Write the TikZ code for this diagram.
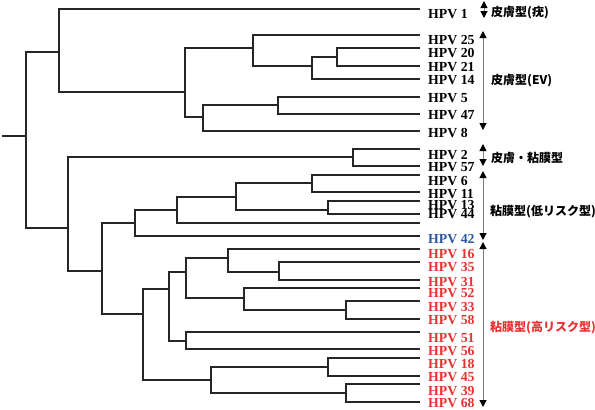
\documentclass[tikz,border=0pt]{standalone}
\usepackage{fontspec}
\setmainfont{Liberation Serif}
\newfontfamily\jpfont{Noto Sans CJK JP}
\usetikzlibrary{arrows.meta}
\definecolor{hpvred}{RGB}{232,50,50}
\definecolor{hpvblue}{RGB}{45,85,165}
\tikzset{
  branch/.style={line width=1.6pt, color=black!85},
  hpv/.style={anchor=west, inner sep=0pt, font=\fontsize{13.8}{14}\selectfont\bfseries},
  group/.style={anchor=west, inner sep=0pt, font=\jpfont\fontsize{12}{12}\selectfont\bfseries},
  grouparrow/.style={{Triangle[black,length=7pt,width=7pt]}-{Triangle[black,length=7pt,width=7pt]}, line width=1pt, color=gray},
}
\begin{document}
\begin{tikzpicture}[x=1pt, y=-1pt]
    \useasboundingbox (0,0) rectangle (595,410);

    % leaves
    \coordinate (v1) at (420,9);
    \coordinate (v25) at (420,35);
    \coordinate (v20) at (420,48);
    \coordinate (v21) at (420,66);
    \coordinate (v14) at (420,79);
    \coordinate (v5) at (420,97);
    \coordinate (v47) at (420,114);
    \coordinate (v8) at (420,131);
    \coordinate (v2) at (420,149);
    \coordinate (v57) at (420,166);
    \coordinate (v6) at (420,175);
    \coordinate (v11) at (420,192);
    \coordinate (v13) at (420,201);
    \coordinate (v44) at (420,214);
    \coordinate (vx) at (420,223);
    \coordinate (v42) at (420,236);
    \coordinate (v16) at (420,249);
    \coordinate (v35) at (420,262);
    \coordinate (v31) at (420,280);
    \coordinate (v52) at (420,288);
    \coordinate (v33) at (420,301);
    \coordinate (v58) at (420,319);
    \coordinate (v51) at (420,332);
    \coordinate (v56) at (420,349);
    \coordinate (v18) at (420,358);
    \coordinate (v45) at (420,376);
    \coordinate (v39) at (420,384);
    \coordinate (v68) at (420,402);

    % inner branch points
    \coordinate (stem) at (2,136);
    \coordinate (r) at (26,136);
    \coordinate (n1) at (59,52);
    \coordinate (n2) at (68,228);
    \coordinate (n3) at (185,92);
    \coordinate (n4) at (253,48);
    \coordinate (n5) at (203,117);
    \coordinate (n6) at (312,66);
    \coordinate (n7) at (337,57);
    \coordinate (n8) at (278,105);
    \coordinate (n9) at (353,157);
    \coordinate (n10) at (102,271);
    \coordinate (n11) at (135,223);
    \coordinate (n12) at (143,314);
    \coordinate (n13) at (177,210);
    \coordinate (n14) at (236,197);
    \coordinate (n15) at (312,183);
    \coordinate (n16) at (328,210);
    \coordinate (n17) at (169,289);
    \coordinate (n18) at (211,380);
    \coordinate (n19) at (186,272);
    \coordinate (n20) at (186,341);
    \coordinate (n21) at (228,258);
    \coordinate (n22) at (244,298);
    \coordinate (n23) at (279,272);
    \coordinate (n24) at (346,310);
    \coordinate (n25) at (328,367);
    \coordinate (n26) at (346,393);

    \draw[branch] (stem) -- (r);
    \draw[branch] (n1) -| (r) |- (n2);
    \draw[branch] (v1) -| (n1) |- (n3);
    \draw[branch] (n4) -| (n3) |- (n5);
    \draw[branch] (v25) -| (n4) |- (n6);
    \draw[branch] (n7) -| (n6) |- (v14);
    \draw[branch] (v20) -| (n7) |- (v21);
    \draw[branch] (n8) -| (n5) |- (v8);
    \draw[branch] (v5) -| (n8) |- (v47);
    \draw[branch] (n9) -| (n2) |- (n10);
    \draw[branch] (v2) -| (n9) |- (v57);
    \draw[branch] (n11) -| (n10) |- (n12);
    \draw[branch] (n13) -| (n11) |- (v42);
    \draw[branch] (n14) -| (n13) |- (vx);
    \draw[branch] (n15) -| (n14) |- (n16);
    \draw[branch] (v6) -| (n15) |- (v11);
    \draw[branch] (v13) -| (n16) |- (v44);
    \draw[branch] (n17) -| (n12) |- (n18);
    \draw[branch] (n19) -| (n17) |- (n20);
    \draw[branch] (n21) -| (n19) |- (n22);
    \draw[branch] (v16) -| (n21) |- (n23);
    \draw[branch] (v35) -| (n23) |- (v31);
    \draw[branch] (v52) -| (n22) |- (n24);
    \draw[branch] (v33) -| (n24) |- (v58);
    \draw[branch] (v51) -| (n20) |- (v56);
    \draw[branch] (n25) -| (n18) |- (n26);
    \draw[branch] (v18) -| (n25) |- (v45);
    \draw[branch] (v39) -| (n26) |- (v68);

    % names
    \node[hpv] (t1) at (428,14) {HPV 1};
    \node[hpv] (t25) at (428,40) {HPV 25};
    \node[hpv] (t20) at (428,53) {HPV 20};
    \node[hpv] (t21) at (428,67) {HPV 21};
    \node[hpv] (t14) at (428,80) {HPV 14};
    \node[hpv] (t5) at (428,98) {HPV 5};
    \node[hpv] (t47) at (428,115) {HPV 47};
    \node[hpv] (t8) at (428,133) {HPV 8};
    \node[hpv] (t2) at (428,155) {HPV 2};
    \node[hpv] (t57) at (428,167) {HPV 57};
    \node[hpv] (t6) at (428,181) {HPV 6};
    \node[hpv] (t11) at (428,194) {HPV 11};
    \node[hpv] (t13) at (428,205) {HPV 13};
    \node[hpv] (t44) at (428,214) {HPV 44};
    \node[hpv, hpvblue] (t42) at (428,239) {HPV 42};
    \node[hpv, hpvred] (t16) at (428,254) {HPV 16};
    \node[hpv, hpvred] (t35) at (428,267) {HPV 35};
    \node[hpv, hpvred] (t31) at (428,282) {HPV 31};
    \node[hpv, hpvred] (t52) at (428,293) {HPV 52};
    \node[hpv, hpvred] (t33) at (428,307) {HPV 33};
    \node[hpv, hpvred] (t58) at (428,320) {HPV 58};
    \node[hpv, hpvred] (t51) at (428,338) {HPV 51};
    \node[hpv, hpvred] (t56) at (428,351) {HPV 56};
    \node[hpv, hpvred] (t18) at (428,364) {HPV 18};
    \node[hpv, hpvred] (t45) at (428,377) {HPV 45};
    \node[hpv, hpvred] (t39) at (428,391) {HPV 39};
    \node[hpv, hpvred] (t68) at (428,403) {HPV 68};

    % groups
    \coordinate (g1a) at (484,1);
    \coordinate (g1b) at (484,18);
    \coordinate (g2a) at (483,31);
    \coordinate (g2b) at (483,130);
    \coordinate (g3a) at (483,144);
    \coordinate (g3b) at (483,166);
    \coordinate (g4a) at (483,171);
    \coordinate (g4b) at (483,240);
    \coordinate (g5a) at (483,242);
    \coordinate (g5b) at (483,407);
    \draw[grouparrow] (g1a) -- (g1b);
    \draw[grouparrow] (g2a) -- (g2b);
    \draw[grouparrow] (g3a) -- (g3b);
    \draw[grouparrow] (g4a) -- (g4b);
    \draw[grouparrow] (g5a) -- (g5b);

    \node[group] (skin) at (491,13) {皮膚型(疣)};
    \node[group] (ev) at (491,81) {皮膚型(EV)};
    \node[group] (both) at (491,158) {皮膚・粘膜型};
    \node[group] (low) at (490,212) {粘膜型(低リスク型)};
    \node[group, hpvred] (high) at (490,328) {粘膜型(高リスク型)};
\end{tikzpicture}
\end{document}
